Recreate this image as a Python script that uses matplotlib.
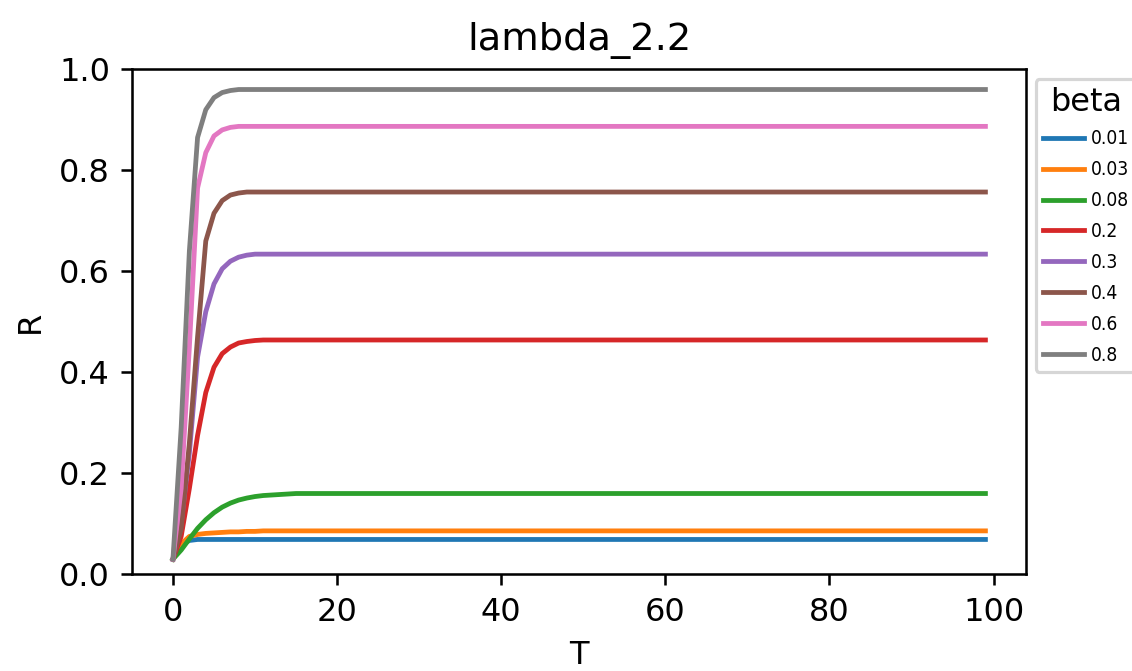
import numpy as np
import matplotlib
matplotlib.use("Agg")
import matplotlib.pyplot as plt

# 时间轴 0..99
T = list(range(100))

# 各 beta 的 R 曲线（前段读图，之后为平台值）
beta = ['0.01', '0.03', '0.08', '0.2', '0.3', '0.4', '0.6', '0.8']

r_001 = [0.03, 0.058, 0.067, 0.069] + [0.069] * 96
r_003 = [0.03, 0.06, 0.075, 0.079, 0.081, 0.082, 0.083, 0.084, 0.084,
         0.085, 0.085] + [0.086] * 89
r_008 = [0.03, 0.048, 0.07, 0.091, 0.108, 0.122, 0.133, 0.141, 0.147,
         0.151, 0.154, 0.156, 0.157, 0.158, 0.159] + [0.16] * 85
r_02 = [0.03, 0.075, 0.17, 0.275, 0.36, 0.41, 0.437, 0.45, 0.458,
        0.461, 0.463] + [0.464] * 89
r_03 = [0.03, 0.10, 0.24, 0.43, 0.52, 0.575, 0.605, 0.62, 0.628,
        0.632] + [0.634] * 90
r_04 = [0.03, 0.09, 0.26, 0.47, 0.66, 0.715, 0.74, 0.751, 0.755] + [0.757] * 91
r_06 = [0.03, 0.17, 0.45, 0.765, 0.835, 0.868, 0.88, 0.885] + [0.887] * 92
r_08 = [0.03, 0.29, 0.64, 0.865, 0.92, 0.944, 0.954, 0.958] + [0.96] * 92

series = [r_001, r_003, r_008, r_02, r_03, r_04, r_06, r_08]

dpi = 230
fig = plt.figure(figsize=(1132 / dpi, 671 / dpi), dpi=dpi)
ax = fig.add_axes([0.1169, 0.1441, 0.7895, 0.7526])

for b, r in zip(beta, series):
    ax.plot(T, r, label=b)

ax.set_ylim(0, 1.0)
ax.set_title("lambda_2.2")
ax.set_xlabel("T")
ax.set_ylabel("R")
ax.legend(title="beta", loc="upper left", bbox_to_anchor=(1, 1),
          prop={'size': 6, 'stretch': 'condensed'},
          handlelength=2.1, handletextpad=0.4, labelspacing=0.62)

fig.savefig("out.png", dpi=dpi)
